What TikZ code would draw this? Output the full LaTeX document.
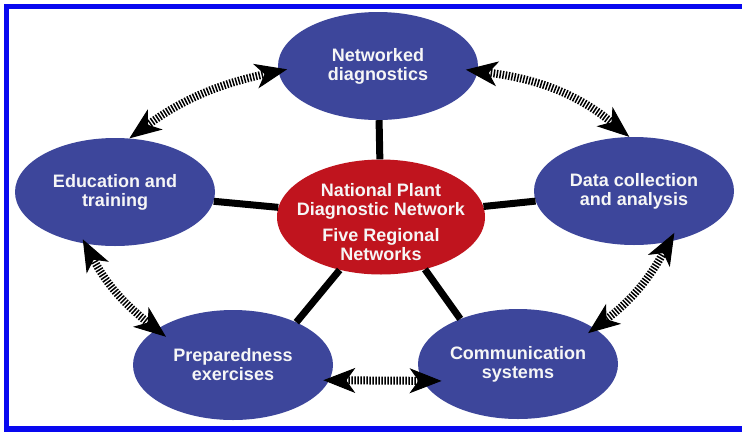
\documentclass[tikz,border=0pt]{standalone}
\usepackage{fontspec}
\setmainfont{Liberation Sans}
\usetikzlibrary{shapes.geometric,arrows.meta}
\definecolor{hubblue}{RGB}{61,70,155}
\definecolor{hubred}{RGB}{192,20,30}
\definecolor{frameblue}{RGB}{8,8,240}
\definecolor{labelwhite}{RGB}{246,246,246}
\tikzset{
  labelfont/.style={font=\bfseries\fontsize{18}{19}\selectfont},
  bubble/.style={ellipse, fill=hubblue, minimum width=200pt, minimum height=108pt,
    inner sep=0pt, text=labelwhite, labelfont, align=center},
  hub/.style={ellipse, fill=hubred, minimum width=208pt, minimum height=115pt, inner sep=0pt},
  hubtext/.style={text=labelwhite, labelfont, align=center, inner sep=0pt},
  spoke/.style={draw=black, line width=7pt},
  headed/.style={draw=black, line width=1pt, dash pattern=on 0pt off 2000pt,
    {Stealth[length=32pt,width=25pt,inset=9pt]}-{Stealth[length=32pt,width=25pt,inset=9pt]}},
  hatchback/.style={draw=white, line width=8pt},
  hatchfront/.style={draw=black, line width=8pt, dash pattern=on 1.5pt off 1.5pt},
}
% double-headed hatched link: #1 path options, #2 start, #3 end,
% #4 / #5 how far each tip reaches past its end point
\newcommand{\linkarrow}[5]{%
  \draw[hatchback, shorten <={22pt-#4}, shorten >={22pt-#5}] (#2) to[#1] (#3);
  \draw[hatchfront, shorten <={22pt-#4}, shorten >={22pt-#5}] (#2) to[#1] (#3);
  \draw[headed, shorten <=-#4, shorten >=-#5] (#2) to[#1] (#3);
}
\begin{document}
\begin{tikzpicture}[x=1pt,y=1pt]
\useasboundingbox (0,0) rectangle (742,-432);
\fill[white] (0,0) rectangle (742,-432);
% frame
\fill[frameblue] (4,-4) rectangle (742,-9);
\fill[frameblue] (4,-4) rectangle (9,-432);
\fill[frameblue] (4,-426) rectangle (742,-432);

% outer ring
\node[bubble] (net) at (378,-66) {Networked\\diagnostics};
\node[bubble] (edu) at (115,-192) {Education and\\training};
\node[bubble] (data) at (634,-191) {Data collection\\and analysis};
\node[bubble, minimum height=110pt] (prep) at (233,-365) {Preparedness\\exercises};
\node[bubble, minimum height=110pt] (comm) at (518,-364) {Communication\\systems};

% hub
\node[hub] (ctr) at (381,-217) {};
\node[hubtext] (ctrtext) at (381,-222) {National Plant\\Diagnostic Network\\[7pt]Five Regional\\Networks};

% spokes
\draw[spoke] (ctr) -- (net);
\draw[spoke] (ctr) -- (edu);
\draw[spoke] (ctr) -- (data);
\draw[spoke] (ctr.-128) -- (prep.34);
\draw[spoke] (ctr.-50) -- (comm.142);

% links between neighbours
\linkarrow{bend left=12}{edu.75}{net.183}{0pt}{9pt}
\linkarrow{bend left=16}{net.-3}{data.95}{12pt}{0pt}
\linkarrow{bend left=12}{data.-55}{comm.25}{10pt}{8pt}
\linkarrow{}{prep.-9}{comm.190}{6pt}{19pt}
\linkarrow{bend right=12}{edu.-120}{prep.155}{5pt}{12pt}
\end{tikzpicture}
\end{document}
